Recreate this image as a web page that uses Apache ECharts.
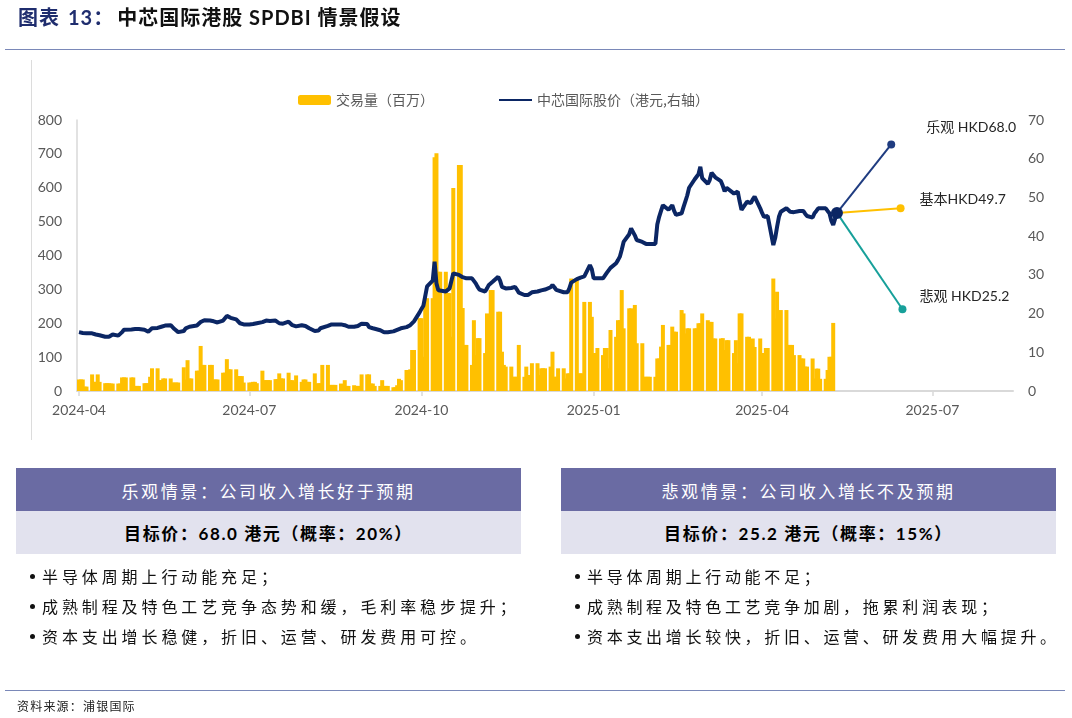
<!DOCTYPE html>
<html><head><meta charset="utf-8">
<script src="https://cdn.jsdelivr.net/npm/echarts@6/dist/echarts.min.js"></script>
<style>
html,body{margin:0;padding:0;width:1072px;height:718px;background:#fff;overflow:hidden;font-family:'Noto Sans CJK SC',sans-serif;}
#chart{position:absolute;left:0;top:0;width:1072px;height:718px;}
.abs{position:absolute;}
#title{left:18px;top:3px;font-size:20px;font-weight:bold;color:#111;line-height:28px;white-space:nowrap;font-family:Lato,'Noto Sans CJK SC',sans-serif;letter-spacing:1px;}
#title .no{color:#1F2D6E;margin-right:3px;}
#title .num{margin-left:8px;}
.rule{left:5px;width:1060px;height:0;border-top:1.5px solid #7A88B8;}
#frame{left:31px;top:60px;width:0;height:380px;border-left:1px solid #dcdcdc;}
.hdr{background:#6A6BA3;color:#fff;font-size:17px;letter-spacing:2.6px;text-align:center;height:43px;line-height:46px;}
.sub{background:#E2E2EE;color:#000;font-size:17px;font-weight:bold;letter-spacing:1.6px;text-align:center;height:43px;line-height:46px;font-family:Lato,'Noto Sans CJK SC',sans-serif;}
.bul{margin:0;padding:0;list-style:none;}
.bul li{font-size:16px;letter-spacing:3.9px;color:#111;line-height:30px;height:30px;white-space:nowrap;position:relative;padding-left:12px;}
.bul li:before{content:'';position:absolute;left:0;top:13px;width:5px;height:5px;border-radius:50%;background:#111;}
#src{left:17px;top:697px;font-size:12px;letter-spacing:1.2px;color:#222;line-height:18px;}
</style></head>
<body>
<div id="chart"></div>
<div id="title" class="abs"><span class="no">图表<span class="num">13：</span></span>中芯国际港股 SPDBI 情景假设</div>
<div class="abs rule" style="top:49px"></div>
<div id="frame" class="abs"></div>

<div class="abs" style="left:16px;top:468px;width:505px;">
  <div class="hdr">乐观情景：公司收入增长好于预期</div>
  <div class="sub">目标价：68.0 港元（概率：20%）</div>
</div>
<div class="abs" style="left:561px;top:468px;width:495px;">
  <div class="hdr">悲观情景：公司收入增长不及预期</div>
  <div class="sub">目标价：25.2 港元（概率：15%）</div>
</div>
<ul class="abs bul" style="left:30px;top:561px;">
  <li>半导体周期上行动能充足；</li>
  <li>成熟制程及特色工艺竞争态势和缓，毛利率稳步提升；</li>
  <li>资本支出增长稳健，折旧、运营、研发费用可控。</li>
</ul>
<ul class="abs bul" style="left:575px;top:561px;letter-spacing:0;">
  <li style="letter-spacing:3.7px">半导体周期上行动能不足；</li>
  <li style="letter-spacing:3.7px">成熟制程及特色工艺竞争加剧，拖累利润表现；</li>
  <li style="letter-spacing:3.7px">资本支出增长较快，折旧、运营、研发费用大幅提升。</li>
</ul>
<div class="abs rule" style="top:690px"></div>
<div id="src" class="abs">资料来源：浦银国际</div>

<script>
// ---- data (weekday trading days starting 2024-04-01) ----
const firstDay = '2024-04-01';
const volume = [
 34,34,34,13,13, 49,27,27,49,27, 23,23,23,22,22, 22,22,40,40,40, 40,40,15,15,15,
 23,23,23,42,67, 67,32,32,37,37, 37,25,25,25,25, 70,34,91,37,37, 60,60,133,77,77,
 77,77,34,34,34, 54,54,94,64,64, 64,44,44,44,25, 25,25,27,27,23, 60,32,32,32,32,
 35,35,52,37,37, 54,32,32,27,46, 27,34,34,27,27, 52,22,23,23,77, 77,18,18,18,18,
 22,15,32,15,15, 17,15,15,15,49, 49,49,22,22,15, 15,32,15,15,15, 11,11,17,36,32,
 62,62,64,121,121, 215,215,101,274,274, 274,690,702,352,352, 352,289,289,160,599, 667,667,245,136,136,
 77,209,106,156,156, 112,229,204,298,298, 234,234,116,77,72, 72,42,42,42,136, 42,72,47,47,82,
 82,47,67,67,67, 72,116,42,42,67, 67,37,52,52,332, 332,52,52,52,263, 263,219,112,112,127,
 106,127,127,67,180, 160,209,209,298,185, 244,244,141,254,141, 141,42,42,42,42, 42,96,96,131,195,
 136,136,190,175,175, 239,229,170,185,185, 185,185,200,200,229, 209,204,204,155,155, 155,156,121,150,150,
 112,150,82,229,229, 160,160,72,155,130, 155,112,112,127,127, 332,214,293,204,239, 239,136,136,136,106,
 106,96,96,72,72, 96,37,66,66,36, 36,62,101,101,201
];
const price = [
 15.2,15.1,15.0,14.9,14.9, 14.9,14.8,14.6,14.5,14.4, 14.0,14.2,14.0,14.5,14.6, 14.3,14.5,15.2,15.8,15.9, 15.9,16.0,16.0,15.9,16.0,
 15.8,15.5,15.3,15.8,16.2, 16.3,16.5,16.6,16.8,16.9, 17.0,16.6,16.0,15.5,15.2, 15.5,16.2,16.4,16.6,16.6, 16.9,17.2,17.8,18.3,18.3,
 18.2,18.2,18.0,17.6,17.7, 18.2,18.8,19.4,19.2,18.9, 18.5,18.0,17.5,17.2,17.2, 17.2,17.2,17.3,17.4,17.5, 17.8,18.1,18.2,18.2,18.1,
 18.2,18.0,17.5,17.2,17.4, 17.9,17.5,17.0,16.6,16.7, 17.0,17.0,16.8,16.5,16.2, 15.5,15.3,15.6,16.2,16.6, 16.8,17.0,17.2,17.2,17.2,
 17.2,17.0,17.0,16.8,16.6, 16.6,16.6,16.8,17.3,17.4, 17.3,16.5,16.2,16.2,15.9, 15.7,15.4,15.2,15.1,15.2, 15.4,15.6,15.8,15.9,16.2,
 16.5,16.6,17.0,17.5,18.0, 20.3,21.2,22.0,24.5,27.0, 28.5,33.4,27.8,26.0,25.7, 25.7,25.7,26.5,28.5,30.4, 30.0,29.8,29.4,29.2,29.1,
 29.1,29.0,27.8,26.9,26.2, 25.7,26.5,27.4,27.8,28.2, 29.5,28.5,26.9,26.7,26.5, 26.6,26.8,26.9,26.2,25.4, 24.8,24.5,24.8,25.2,25.5,
 25.7,25.8,26.0,26.1,26.2, 26.8,27.4,26.8,26.1,25.9, 25.5,25.1,25.5,26.5,28.0, 28.9,29.1,29.3,29.5,29.6, 32.5,31.5,29.1,29.1,29.1,
 29.1,29.8,30.5,31.0,31.8, 33.0,33.8,34.7,36.5,38.5, 40.5,42.0,41.5,40.2,39.0, 38.5,38.0,38.0,38.0,38.0, 38.0,43.0,45.0,46.5,48.0,
 46.8,46.3,48.0,46.5,45.5, 45.9,47.5,49.0,50.5,52.5, 54.7,54.9,56.0,57.9,55.0, 53.5,54.5,56.4,56.0,55.2, 54.2,53.0,51.6,52.5,53.0,
 51.0,51.5,51.5,49.0,46.8, 48.9,48.5,48.5,49.5,50.2, 47.2,46.0,45.0,45.0,45.2, 37.7,39.5,42.4,45.0,46.3, 47.2,47.0,46.3,45.9,46.2,
 46.5,46.8,46.5,45.8,45.2, 44.8,45.9,46.5,47.2,47.6, 47.2,46.5,45.9,44.0,42.9
];
const nowPoint = ['2025-05-11', 46.0];
const scenarioLabels = ['乐观 HKD68.0', '基本HKD49.7', '悲观 HKD25.2'];
const scenarioEnds = [['2025-06-09', 63.7], ['2025-06-14', 47.2], ['2025-06-15', 21.1]];
const seriesNames = ['交易量（百万）', '中芯国际股价（港元,右轴）'];
const xRange = ['2024-04-01', '2025-08-12'];
const leftAxis = {min: 0, max: 800, interval: 100};
const rightAxis = {min: 0, max: 70, interval: 10};

// ---- trading-day calendar (weekdays) ----
function pad(n){return n<10?'0'+n:''+n;}
function weekdays(start, n){
  const out=[]; const d=new Date(start+'T00:00:00');
  while(out.length<n){ const w=d.getDay(); if(w!==0&&w!==6) out.push(d.getFullYear()+'-'+pad(d.getMonth()+1)+'-'+pad(d.getDate())); d.setDate(d.getDate()+1); }
  return out;
}
const dates = weekdays(firstDay, volume.length);

const numFont = 'Lato, "Noto Sans CJK SC", sans-serif';
const scenarioColors = ['#1F3C80', '#FFC000', '#17A09A'];
const labelOffsets = [[26,-17],[10,-9],[8,-13]];

const scenarioSeries = scenarioEnds.map((e, k) => ({
  type: 'line', yAxisIndex: 1, z: k === 0 ? 6 : 4 - k,
  symbol: 'circle',
  symbolSize: (v, p) => p.dataIndex === 0 ? (k === 0 ? 12 : 0) : 8,
  itemStyle: {color: k === 0 ? '#0B2664' : scenarioColors[k]},
  lineStyle: {color: scenarioColors[k], width: 2},
  silent: true,
  data: [
    {value: nowPoint},
    {value: e, itemStyle: {color: scenarioColors[k]},
     label: {show: true, position: 'right', offset: labelOffsets[k], formatter: scenarioLabels[k],
       fontSize: 14, color: '#262626', fontFamily: numFont}}
  ]
}));

const chart = echarts.init(document.getElementById('chart'), null, {renderer: 'canvas'});
chart.setOption({
  animation: false,
  textStyle: {fontFamily: numFont},
  legend: {
    left: 293, top: 88, itemWidth: 33, itemHeight: 10, itemGap: 64,
    data: [{name: seriesNames[0]}, {name: seriesNames[1], itemStyle: {opacity: 0}}],
    textStyle: {fontSize: 14, color: '#595959', fontFamily: '"Noto Sans CJK SC", sans-serif'}
  },
  grid: {left: 77, right: 59, top: 120, bottom: 327},
  xAxis: {
    type: 'time', min: xRange[0], max: xRange[1], splitNumber: 5,
    axisLine: {lineStyle: {color: '#D9D9D9', width: 2}},
    axisTick: {show: true, length: 5, lineStyle: {color: '#D9D9D9', width: 1.5}},
    axisLabel: {formatter: '{yyyy}-{MM}', color: '#595959', fontSize: 14, margin: 12, fontFamily: numFont, showMaxLabel: false},
    splitLine: {show: false}
  },
  yAxis: [
    {type: 'value', min: leftAxis.min, max: leftAxis.max, interval: leftAxis.interval,
     axisLine: {show: true, lineStyle: {color: '#D9D9D9', width: 1.5}}, axisTick: {show: false},
     axisLabel: {color: '#595959', fontSize: 14, margin: 15, fontFamily: numFont}, splitLine: {show: false}},
    {type: 'value', min: rightAxis.min, max: rightAxis.max, interval: rightAxis.interval,
     axisLine: {show: false}, axisTick: {show: false},
     axisLabel: {color: '#595959', fontSize: 14, margin: 15, fontFamily: numFont}, splitLine: {show: false}}
  ],
  series: [
    {name: seriesNames[0], type: 'bar', yAxisIndex: 0, barWidth: 4, barMinWidth: 4, z: 1,
     itemStyle: {color: '#FFC000'},
     data: dates.map((d, i) => [d, volume[i]])},
    {name: seriesNames[1], type: 'line', yAxisIndex: 1, z: 5, symbol: 'none',
     itemStyle: {color: '#0B2664'},
     lineStyle: {color: '#0B2664', width: 4},
     data: dates.map((d, i) => [d, price[i]]).concat([nowPoint])}
  ].concat(scenarioSeries)
});
</script>
</body></html>
